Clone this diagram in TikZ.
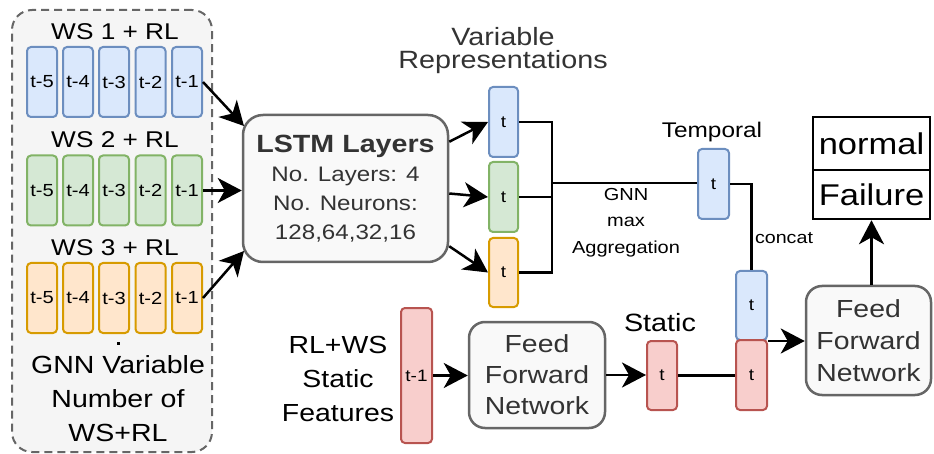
\documentclass[tikz,border=0pt]{standalone}
\usepackage{fontspec}
\setmainfont{Liberation Sans}[FakeStretch=1.15]
\usetikzlibrary{arrows.meta,calc}

\definecolor{bluefill}{HTML}{DAE8FC}
\definecolor{bluedraw}{HTML}{6C8EBF}
\definecolor{greenfill}{HTML}{D5E8D4}
\definecolor{greendraw}{HTML}{82B366}
\definecolor{orangefill}{HTML}{FFE6CC}
\definecolor{orangedraw}{HTML}{D79B00}
\definecolor{redfill}{HTML}{F8CECC}
\definecolor{reddraw}{HTML}{B85450}
\definecolor{groupfill}{HTML}{F5F5F5}
\definecolor{graydraw}{HTML}{666666}
\definecolor{procfill}{HTML}{F9F9F9}
\definecolor{textgray}{HTML}{333333}

\newcommand\fsz[2]{\fontsize{#1}{#2}\selectfont}

\begin{document}
\begin{tikzpicture}[x=1pt,y=-1pt,
  cell/.style={rounded corners=4pt, line width=2pt, inner sep=0pt,
    minimum width=30pt, minimum height=70pt, font=\fsz{17.5}{19}},
  bcell/.style={cell, draw=bluedraw, fill=bluefill},
  gcell/.style={cell, draw=greendraw, fill=greenfill},
  ocell/.style={cell, draw=orangedraw, fill=orangefill},
  rcell/.style={cell, draw=reddraw, fill=redfill},
  tcell/.style={font=\fsz{16.5}{18}},
  proc/.style={draw=graydraw, fill=procfill, line width=2.5pt,
    rounded corners=16pt, text=textgray, align=center, inner sep=0pt},
  lbl/.style={inner sep=0pt, align=center},
  ln/.style={line width=2.5pt, black},
  arr/.style={ln, -{Stealth[length=24pt,width=25pt,inset=7pt]}},
  outbox/.style={draw=black, line width=2.5pt, minimum width=117pt,
    inner sep=0pt, font=\fsz{30}{32}}
]
\useasboundingbox (0,0) rectangle (934,454);

% group of weather-station inputs
\node[draw=graydraw, fill=groupfill, line width=2pt, dashed,
  dash pattern=on 8pt off 5pt, rounded corners=20pt,
  minimum width=200pt, minimum height=442pt, inner sep=0pt] (grp) at (112,231) {};

\node[lbl, font=\fsz{22.8}{24}] (ws1) at (115,32) {WS 1 + RL};
\node[lbl, font=\fsz{22.8}{24}] (ws2) at (115,140) {WS 2 + RL};
\node[lbl, font=\fsz{22.8}{24}] (ws3) at (115,248) {WS 3 + RL};

\foreach \lab/\x [count=\i] in {t-5/42,t-4/78,t-3/114,t-2/150.5,t-1/187} {
  \node[bcell] (b\i) at (\x,82) {\lab};
  \node[gcell] (g\i) at (\x,190.5) {\lab};
  \node[ocell] (o\i) at (\x,298) {\lab};
}

\fill (116.5,341.5) rectangle (119.5,344.5);
\node[lbl, font=\fsz{24.8}{34}] (gnnvar) at (118,399)
  {GNN Variable\\Number of\\WS+RL};

% LSTM encoder
\node[proc, rounded corners=20pt, minimum width=205pt, minimum height=147pt,
  font=\fsz{21}{29}] (lstm) at (345.5,188.5)
  {{\fsz{24.9}{29}\bfseries LSTM Layers}\\No. Layers: 4\\No. Neurons:\\128,64,32,16};

\coordinate (in1) at (244,126);
\coordinate (in3) at (244,251);
\draw[arr] (b5.east) -- (in1);
\draw[arr] (g5.east) -- (g5.east -| lstm.west);
\draw[arr] (o5.east) -- (in3);

% per-variable representations
\node[lbl, font=\fsz{25}{23}, text=textgray] (vrep) at (503,51)
  {Variable\\Representations};
\node[bcell, tcell, minimum width=29pt] (vb) at (503.5,122) {t};
\node[gcell, tcell, minimum width=29pt] (vg) at (503.5,197) {t};
\node[ocell, tcell, minimum width=29pt, minimum height=69pt] (vo) at (503.5,272.5) {t};

\draw[arr] ($(lstm.north east)+(0,28)$) -- (vb.west);
\draw[arr] ($(lstm.east)+(0,5)$) -- (vg.west);
\draw[arr] ($(lstm.south east)+(0,-17)$) -- (vo.west);

% max aggregation
\coordinate (jx) at (552,183);
\draw[ln] (vb.east) -- (vb.east -| jx) -- (vo.east -| jx) -- (vo.east);
\draw[ln] (vg.east) -- (vg.east -| jx);

\node[lbl, font=\fsz{21.2}{24}] (templbl) at (712,132) {Temporal};
\node[bcell, tcell, minimum width=31pt] (tmp) at (713.5,184) {t};
\draw[ln] (jx) -- (jx -| tmp.west);
\node[lbl, font=\fsz{17.4}{26.5}] (agg) at (626,222.5) {GNN\\max\\Aggregation};

% concatenated vector
\node[bcell, tcell, minimum width=31pt, minimum height=69pt] (cb) at (751.5,305.5) {t};
\node[rcell, tcell, minimum width=31pt] (cr) at (751.5,375) {t};
\draw[ln] (tmp.east) -| (cb.north);
\node[lbl, font=\fsz{17.1}{20}] (concat) at (784,238) {concat};

% static branch
\node[lbl, font=\fsz{24.7}{34}] (statin) at (338,379) {RL+WS\\Static\\Features};
\node[rcell, tcell, minimum width=31pt, minimum height=135pt] (sr) at (416.5,375.5) {t-1};
\node[proc, minimum width=136pt, minimum height=106pt, font=\fsz{24.7}{31}] (ffn1) at (537,375)
  {Feed\\Forward\\Network};
\node[lbl, font=\fsz{25}{28}] (statlbl) at (660,323) {Static};
\node[rcell, tcell, minimum height=69pt] (st) at (662,375.5) {t};

\draw[arr] (sr.east) -- (sr.east -| ffn1.west);
\draw[arr] (ffn1.east) -- (ffn1.east -| st.west);
\draw[ln] (st.east) -- (st.east -| cr.west);

% classifier
\node[proc, minimum width=125pt, minimum height=109pt, font=\fsz{24.7}{32}] (ffn2) at (868.5,340.5)
  {Feed\\Forward\\Network};
\draw[arr] (cb.south east) -- (cb.south east -| ffn2.west);

\node[outbox, minimum height=53pt] (normal) at (871.5,143.5) {normal};
\node[outbox, minimum height=49pt] (fail) at (871.5,194.5) {Failure};
\draw[arr] (ffn2.north -| fail.south) -- (fail.south);
\end{tikzpicture}
\end{document}
